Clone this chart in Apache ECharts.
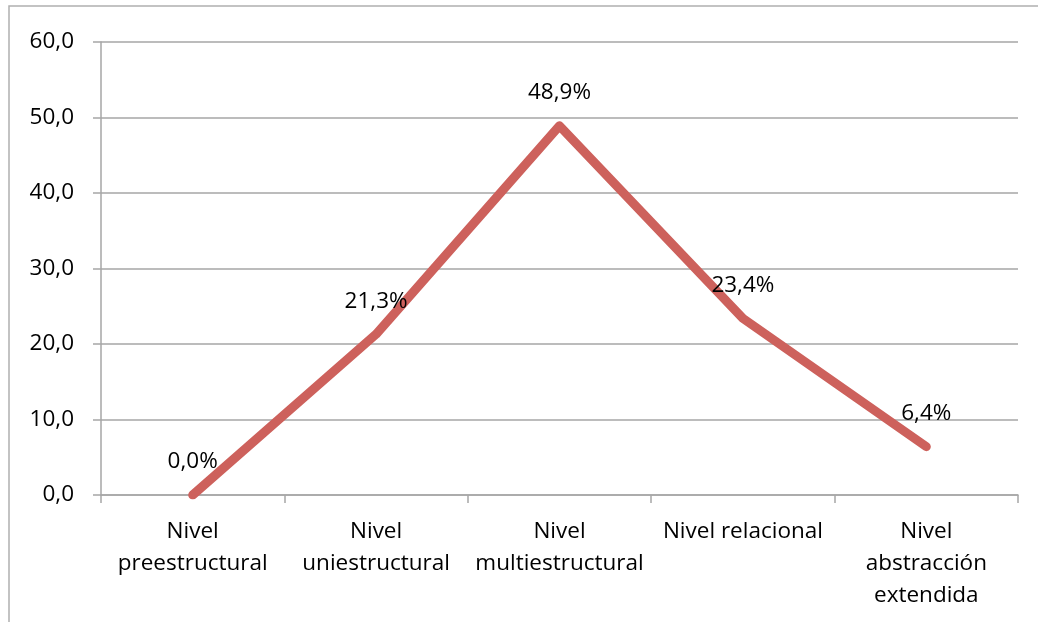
<!DOCTYPE html>
<html>
<head>
<meta charset="utf-8">
<script src="https://cdn.jsdelivr.net/npm/echarts@6/dist/echarts.min.js"></script>
<style>
  html, body { margin: 0; padding: 0; background: #ffffff; }
  #chart { width: 1038px; height: 622px; }
</style>
</head>
<body>
<div id="chart"></div>
<script>
// Categories (SOLO taxonomy levels) and their percentages
const categories = [
  'Nivel\npreestructural',
  'Nivel\nuniestructural',
  'Nivel\nmultiestructural',
  'Nivel relacional',
  'Nivel\nabstracción\nextendida'
];
const percentages = [0.0, 21.3, 48.9, 23.4, 6.4];
const yTicks = { min: 0, max: 60, step: 10 };

const fontFamily = '"Open Sans", "DejaVu Sans", sans-serif';
const gray = '#a6a6a6';
const comma = (v, d) => v.toFixed(d).replace('.', ',');

const chart = echarts.init(document.getElementById('chart'), null, { renderer: 'canvas' });
chart.setOption({
  backgroundColor: '#ffffff',
  animation: false,
  graphic: [{
    type: 'rect',
    shape: { x: 9, y: 6, width: 1100, height: 700 },
    style: { fill: 'none', stroke: '#b0b0b0', lineWidth: 1.5 },
    silent: true
  }],
  grid: { left: 101, right: 20, top: 42, bottom: 127 },
  xAxis: {
    type: 'category',
    data: categories,
    boundaryGap: true,
    axisLine: { show: true, lineStyle: { color: gray, width: 1.5 } },
    axisTick: { show: true, interval: 0, length: 8, lineStyle: { color: gray, width: 1.5 } },
    axisLabel: {
      interval: 0,
      margin: 21,
      color: '#000000',
      fontFamily: fontFamily,
      fontSize: 22.5,
      lineHeight: 32
    },
    splitLine: { show: false }
  },
  yAxis: {
    type: 'value',
    min: yTicks.min,
    max: yTicks.max,
    interval: yTicks.step,
    axisLine: { show: true, lineStyle: { color: gray, width: 1.5 } },
    axisTick: { show: true, length: 8, lineStyle: { color: gray, width: 1.5 } },
    axisLabel: {
      margin: 27,
      color: '#000000',
      fontFamily: fontFamily,
      fontSize: 22.5,
      formatter: v => comma(v, 1)
    },
    splitLine: { show: true, lineStyle: { color: gray, width: 1.5 } }
  },
  series: [{
    type: 'line',
    data: percentages,
    symbol: 'circle',
    symbolSize: 1,
    showSymbol: true,
    itemStyle: { color: 'rgba(0,0,0,0)' },
    lineStyle: { color: '#cd615c', width: 9, cap: 'round', join: 'round' },
    label: {
      show: true,
      position: 'top',
      distance: 21,
      color: '#000000',
      fontFamily: fontFamily,
      fontSize: 22.5,
      formatter: p => comma(p.value, 1) + '%'
    }
  }]
});
</script>
</body>
</html>
